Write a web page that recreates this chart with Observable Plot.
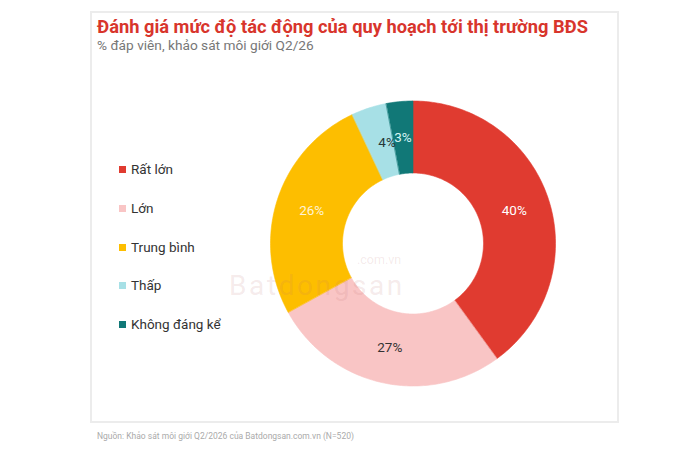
<!DOCTYPE html>
<html>
<head>
<meta charset="utf-8">
<script src="https://cdn.jsdelivr.net/npm/d3@7"></script>
<script src="https://cdn.jsdelivr.net/npm/@observablehq/plot@0.6"></script>
<style>
  html, body { margin: 0; padding: 0; background: #fff; }
  body { width: 700px; height: 459px; position: relative; overflow: hidden; font-family: Roboto, "Noto Sans", sans-serif; }
  #frame { position: absolute; left: 90px; top: 11px; width: 525px; height: 408px; border: 2px solid #ececec; }
  #chart { position: absolute; left: 0; top: 0; }
  .abs { position: absolute; white-space: nowrap; }
  #title { left: 97px; top: 16px; font-size: 18.3px; font-weight: 700; color: #D8352C; }
  #subtitle { left: 97px; top: 37px; font-size: 13.7px; color: #777; }
  #footnote { left: 97px; top: 431px; font-size: 8.5px; color: #aaa; }
  .leg { position: absolute; left: 119px; font-size: 13.5px; color: #333; white-space: nowrap; }
  .leg i { display: inline-block; width: 7px; height: 7px; margin-right: 5px; vertical-align: 1px; }
  #wm1 { left: 229px; top: 275px; font-size: 28px; line-height: 0.75; color: rgba(190,110,110,0.15); letter-spacing: 2.6px; }
  #wm2 { left: 357px; top: 254px; font-size: 12.5px; line-height: 1; color: rgba(190,110,110,0.15); }
</style>
</head>
<body>
<div id="frame"></div>
<div id="chart"></div>
<div id="title" class="abs">Đánh giá mức độ tác động của quy hoạch tới thị trường BĐS</div>
<div id="subtitle" class="abs">% đáp viên, khảo sát môi giới Q2/26</div>
<div id="legend"></div>
<div id="wm2" class="abs">.com.vn</div>
<div id="wm1" class="abs">Batdongsan</div>
<div id="footnote" class="abs">Nguồn: Khảo sát môi giới Q2/2026 của Batdongsan.com.vn (N=520)</div>
<script>
const categories = ["Rất lớn", "Lớn", "Trung bình", "Thấp", "Không đáng kể"];
const values = [40, 27, 26, 4, 3];
const colors = ["#E03B30", "#F9C5C5", "#FDBE00", "#A7E0E6", "#117877"];
const labelColors = ["#ffffff", "#333333", "#fff3d6", "#263838", "#d6f4f4"];
const labels = values.map(v => v + "%");

// geometry
const cx = 412.5, cy = 243, R = 142.5, rIn = 70.5 / 142.5;

const data = categories.map((c, i) => ({cat: c, value: values[i], label: labels[i], lc: labelColors[i]}));
const arcs = d3.pie().sort(null).value(d => d.value)(data);

const pts = [];
const cents = [];
arcs.forEach(a => {
  const n = Math.max(2, Math.ceil((a.endAngle - a.startAngle) / (Math.PI / 180)));
  for (let k = 0; k <= n; k++) {
    const t = a.startAngle + (a.endAngle - a.startAngle) * k / n;
    pts.push({cat: a.data.cat, x: Math.sin(t), y: Math.cos(t)});
  }
  for (let k = n; k >= 0; k--) {
    const t = a.startAngle + (a.endAngle - a.startAngle) * k / n;
    pts.push({cat: a.data.cat, x: rIn * Math.sin(t), y: rIn * Math.cos(t)});
  }
  const m = (a.startAngle + a.endAngle) / 2, rm = (1 + rIn) / 2;
  cents.push({cat: a.data.cat, label: a.data.label, lc: a.data.lc, x: rm * Math.sin(m), y: rm * Math.cos(m)});
});

const chart = Plot.plot({
  width: 700,
  height: 459,
  margin: 0,
  style: {background: "transparent", fontFamily: "Roboto, sans-serif"},
  x: {domain: [-1, 1], range: [cx - R, cx + R], axis: null},
  y: {domain: [-1, 1], range: [cy + R, cy - R], axis: null},
  color: {domain: categories, range: colors},
  marks: [
    Plot.line(pts, {x: "x", y: "y", z: "cat", fill: "cat", stroke: "cat", strokeWidth: 0.6, curve: "linear-closed"}),
    Plot.text(cents.filter(d => d.cat !== "Thấp"), {x: "x", y: "y", text: "label", fill: d => d.lc, fontSize: 13.5}),
    Plot.text(cents.filter(d => d.cat === "Thấp"), {x: "x", y: "y", text: "label", fill: d => d.lc, fontSize: 13.5, dx: 7})
  ]
});
document.getElementById("chart").appendChild(chart);

// legend
const legTops = [161, 200, 239, 277, 316];
const leg = document.getElementById("legend");
categories.forEach((c, i) => {
  const d = document.createElement("div");
  d.className = "leg";
  d.style.top = legTops[i] + "px";
  d.innerHTML = `<i style="background:${colors[i]}"></i>${c}`;
  leg.appendChild(d);
});
</script>
</body>
</html>
